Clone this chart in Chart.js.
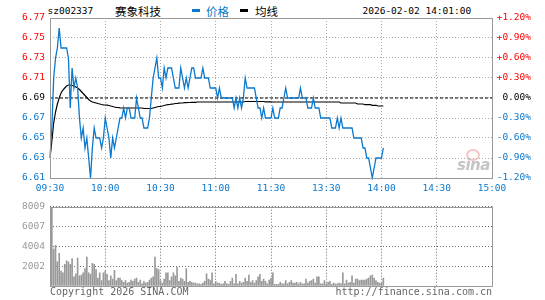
<!DOCTYPE html>
<html>
<head>
<meta charset="utf-8">
<script src="https://cdn.jsdelivr.net/npm/chart.js@4.4.1/dist/chart.umd.min.js"></script>
<style>
  body { margin: 0; background: #fff; }
  #wrap { position: relative; width: 545px; height: 300px; overflow: hidden; }
  #wrap canvas { position: absolute; left: 0; }
  .t { position: absolute; white-space: nowrap; font-family: "DejaVu Sans Mono", monospace; font-size: 9.5px; line-height: 12px; color: #000; }
  .cn { position: absolute; white-space: nowrap; font-family: "Noto Sans CJK SC", sans-serif; font-size: 11.5px; line-height: 14px; }
  .dash { position: absolute; top: 9px; width: 8px; height: 3px; }
  .foot { position: absolute; top: 286px; white-space: nowrap; font-family: "DejaVu Sans Mono", monospace; font-size: 10px; line-height: 12px; color: #666; }
  #logo { position: absolute; left: 457px; top: 156px; font: italic bold 15px "DejaVu Sans", sans-serif; color: #c4c4c4; letter-spacing: -0.5px; }
  #eye { position: absolute; left: 466px; top: 149px; width: 10px; height: 8px; border-radius: 50%; border: 2px solid #f3b8b8; opacity: 0.8; }
</style>
</head>
<body>
<div id="wrap">
  <div class="t" style="left:47.5px;top:5px">sz002337</div>
  <div class="cn" style="left:115px;top:4px">赛象科技</div>
  <div class="dash" style="left:192px;background:#0a78cc"></div>
  <div class="cn" style="left:206px;top:4px;color:#0a78cc">价格</div>
  <div class="dash" style="left:240px;background:#000"></div>
  <div class="cn" style="left:255px;top:4px">均线</div>
  <div class="t" style="left:362.5px;top:5px">2026-02-02 14:01:00</div>

  <canvas id="price" width="545" height="196" style="top:0"></canvas>
  <canvas id="vol" width="545" height="104" style="top:196px"></canvas>

  <div id="eye"></div>
  <div id="logo">sina</div>
  <div class="foot" style="left:50px">Copyright 2026 SINA.COM</div>
  <div class="foot" style="left:335.5px">http://finance.sina.com.cn</div>
</div>

<script>
// 분시도(价格/均线) + 거래량. 인덱스 = 09:30부터의 분 (11:30 다음이 13:00)
const RED = "#ff0000"
const BLUE = "#0a78cc"
const INK = "#000000"
const FRAME = "#999999"
const GRID = "#a8a8a8"
const VOL_GRID = "#707070"
const BAR = "#999999"
const MONO = "'DejaVu Sans Mono', monospace"

const PREV_CLOSE = 6.69
const TIME_POS = [0, 30, 60, 90, 120, 150, 180, 210, 240]
const TIME_LABELS = ["09:30", "10:00", "10:30", "11:00", "11:30", "13:30", "14:00", "14:30", "15:00"]
const PRICE_TICKS = [6.61, 6.63, 6.65, 6.67, 6.69, 6.71, 6.73, 6.75, 6.77]
const PCT_TICKS = [-1.2, -0.9, -0.6, -0.3, 0, 0.3, 0.6, 0.9, 1.2]
const VOL_TICKS = [0, 2002, 4004, 6007, 8009]

const PRICE = [
  6.63, 6.66, 6.71, 6.73, 6.74, 6.76, 6.74, 6.74, 6.74, 6.74,
  6.73, 6.68, 6.72, 6.70, 6.71, 6.70, 6.67, 6.65, 6.66, 6.64,
  6.65, 6.63, 6.61, 6.64, 6.66, 6.65, 6.65, 6.65, 6.64, 6.65,
  6.67, 6.66, 6.65, 6.63, 6.65, 6.64, 6.65, 6.66, 6.67, 6.67,
  6.68, 6.67, 6.68, 6.68, 6.67, 6.67, 6.67, 6.69, 6.68, 6.67,
  6.67, 6.66, 6.66, 6.66, 6.67, 6.69, 6.71, 6.72, 6.73, 6.71,
  6.71, 6.70, 6.72, 6.71, 6.72, 6.72, 6.72, 6.71, 6.70, 6.70,
  6.70, 6.72, 6.71, 6.70, 6.71, 6.70, 6.71, 6.72, 6.72, 6.71,
  6.71, 6.71, 6.71, 6.72, 6.71, 6.71, 6.71, 6.70, 6.70, 6.70,
  6.70, 6.69, 6.70, 6.69, 6.69, 6.69, 6.69, 6.69, 6.69, 6.69,
  6.68, 6.69, 6.68, 6.69, 6.68, 6.69, 6.71, 6.70, 6.70, 6.70,
  6.70, 6.70, 6.69, 6.68, 6.68, 6.67, 6.68, 6.67, 6.67, 6.67,
  6.67, 6.68, 6.67, 6.67, 6.67, 6.68, 6.68, 6.69, 6.70, 6.69,
  6.69, 6.69, 6.69, 6.69, 6.69, 6.69, 6.70, 6.69, 6.69, 6.69,
  6.68, 6.68, 6.68, 6.69, 6.68, 6.68, 6.68, 6.67, 6.67, 6.67,
  6.67, 6.67, 6.67, 6.66, 6.66, 6.66, 6.67, 6.66, 6.67, 6.66,
  6.66, 6.66, 6.66, 6.66, 6.66, 6.65, 6.65, 6.65, 6.65, 6.65,
  6.64, 6.64, 6.63, 6.63, 6.62, 6.61, 6.62, 6.63, 6.63, 6.63,
  6.63, 6.64,
]

const AVG = [
  6.630, 6.647, 6.665, 6.676, 6.684, 6.690, 6.695, 6.698, 6.700, 6.702,
  6.703, 6.703, 6.7025, 6.702, 6.701, 6.700, 6.6985, 6.6965, 6.6945, 6.6925,
  6.6905, 6.6885, 6.687, 6.686, 6.6855, 6.685, 6.6845, 6.684, 6.6835, 6.6832,
  6.683, 6.6828, 6.6825, 6.682, 6.6815, 6.681, 6.6807, 6.6805, 6.6802, 6.680,
  6.680, 6.680, 6.680, 6.680, 6.680, 6.680, 6.680, 6.680, 6.680, 6.680,
  6.680, 6.6795, 6.6795, 6.6795, 6.6795, 6.6795, 6.680, 6.6805, 6.681, 6.6815,
  6.6817, 6.682, 6.6825, 6.683, 6.6833, 6.6835, 6.6838, 6.684, 6.6845, 6.6845,
  6.6848, 6.685, 6.685, 6.6853, 6.6853, 6.6855, 6.6855, 6.6857, 6.6857, 6.6857,
  6.686, 6.686, 6.686, 6.686, 6.686, 6.686, 6.686, 6.686, 6.686, 6.686,
  6.686, 6.686, 6.686, 6.686, 6.686, 6.686, 6.686, 6.686, 6.686, 6.686,
  6.686, 6.686, 6.686, 6.686, 6.686, 6.686, 6.6865, 6.6865, 6.6865, 6.6865,
  6.6865, 6.6865, 6.6865, 6.6865, 6.6865, 6.6865, 6.6865, 6.6862, 6.6862, 6.6862,
  6.6862, 6.686, 6.686, 6.686, 6.686, 6.686, 6.686, 6.686, 6.686, 6.686,
  6.686, 6.686, 6.686, 6.686, 6.686, 6.686, 6.686, 6.686, 6.686, 6.686,
  6.686, 6.686, 6.686, 6.686, 6.686, 6.686, 6.686, 6.686, 6.686, 6.686,
  6.686, 6.686, 6.686, 6.686, 6.686, 6.686, 6.686, 6.686, 6.685, 6.685,
  6.685, 6.685, 6.685, 6.685, 6.685, 6.685, 6.685, 6.684, 6.684, 6.684,
  6.684, 6.6833, 6.6833, 6.6833, 6.6833, 6.6827, 6.6827, 6.6827, 6.682, 6.682,
  6.682, 6.682,
]

const VOL = [
  1972, 8009, 3721, 4102, 2449, 3307, 1495, 1336, 2194, 2544,
  2449, 2194, 2767, 922, 1240, 2830, 1018, 1113, 1336, 1749,
  2926, 1336, 1177, 2290, 2194, 1654, 795, 1336, 541, 1336,
  1495, 1177, 541, 1018, 700, 1590, 541, 795, 795, 541,
  382, 541, 286, 382, 604, 477, 700, 795, 382, 604,
  223, 477, 286, 382, 604, 795, 922, 2926, 1749, 1654,
  541, 286, 700, 1336, 1336, 541, 922, 1336, 1018, 1876,
  477, 795, 700, 477, 1749, 382, 477, 382, 286, 286,
  223, 223, 159, 286, 477, 1240, 700, 604, 1336, 223,
  477, 286, 286, 159, 223, 477, 223, 159, 477, 795,
  223, 1177, 223, 477, 286, 382, 795, 477, 1113, 382,
  541, 286, 541, 922, 1177, 477, 700, 477, 223, 604,
  795, 1336, 159, 159, 159, 382, 223, 223, 541, 223,
  382, 541, 286, 286, 382, 223, 382, 223, 223, 700,
  286, 477, 541, 700, 286, 922, 922, 223, 223, 541,
  223, 382, 477, 159, 286, 223, 223, 286, 223, 1336,
  223, 604, 286, 382, 1018, 286, 700, 700, 541, 604,
  604, 604, 700, 795, 1018, 1113, 795, 541, 382, 286,
  286, 795,
]

// 차트 영역 외곽선
const frame = {
  id: "frame",
  afterDatasetsDraw(chart) {
    const { ctx, chartArea: a } = chart
    ctx.save()
    ctx.strokeStyle = FRAME
    ctx.lineWidth = 1
    ctx.strokeRect(Math.round(a.left) + 0.5, Math.round(a.top) + 0.5, Math.round(a.right - a.left), Math.round(a.bottom - a.top))
    ctx.restore()
  },
}

const signColor = (v) => (Math.abs(v) < 1e-6 ? INK : v > 0 ? RED : BLUE)
const setTicks = (arr) => (scale) => { scale.ticks = arr.map((value) => ({ value })) }
const tickFont = () => ({ family: MONO, size: 9.5 })

const xScale = (showLabels, gridColor) => ({
  type: "linear",
  min: 0,
  max: 240,
  offset: false,
  afterBuildTicks: setTicks(TIME_POS),
  afterFit: (s) => { s.height = showLabels ? 18 : 14 },
  grid: { color: gridColor, lineWidth: 1, drawTicks: false, offset: false },
  border: { display: false, dash: [1, 2] },
  ticks: {
    display: showLabels,
    color: BLUE,
    font: tickFont(),
    padding: 5,
    maxRotation: 0,
    autoSkip: false,
    callback: (v, i) => TIME_LABELS[i],
  },
})

Chart.defaults.animation = false

new Chart(document.getElementById("price"), {
  type: "line",
  data: {
    datasets: [
      {
        data: PRICE.map((y, x) => ({ x, y })),
        borderColor: BLUE,
        borderWidth: 1.3,
        pointRadius: 0,
        tension: 0,
        order: 1,
        clip: 2,
      },
      {
        data: AVG.map((y, x) => ({ x, y })),
        borderColor: INK,
        borderWidth: 1.2,
        pointRadius: 0,
        tension: 0,
        order: 2,
      },
      {
        data: [{ x: 0, y: PREV_CLOSE }, { x: 240, y: PREV_CLOSE }],
        borderColor: INK,
        borderWidth: 1,
        borderDash: [3, 2],
        pointRadius: 0,
        order: 3,
      },
    ],
  },
  options: {
    responsive: false,
    layout: { padding: { top: 18, right: 14, left: 0, bottom: 0 } },
    plugins: { legend: { display: false }, tooltip: { enabled: false } },
    scales: {
      x: xScale(true, GRID),
      y: {
        position: "left",
        min: 6.61,
        max: 6.77,
        afterBuildTicks: setTicks(PRICE_TICKS),
        afterFit: (s) => { s.width = 50 },
        grid: { color: GRID, drawTicks: false },
        border: { display: false, dash: [1, 2] },
        ticks: {
          font: tickFont(),
          padding: 5,
          color: (c) => signColor(c.tick.value - PREV_CLOSE),
          callback: (v) => v.toFixed(2),
        },
      },
      pct: {
        position: "right",
        min: -1.2,
        max: 1.2,
        afterBuildTicks: setTicks(PCT_TICKS),
        afterFit: (s) => { s.width = 39 },
        grid: { drawOnChartArea: false, drawTicks: false },
        border: { display: false },
        ticks: {
          font: tickFont(),
          padding: 3,
          crossAlign: "far",
          color: (c) => signColor(c.tick.value),
          callback: (v) => (Math.abs(v) < 1e-6 ? "0.00%" : (v > 0 ? "+" : "") + v.toFixed(2) + "%"),
        },
      },
    },
  },
  plugins: [frame],
})

new Chart(document.getElementById("vol"), {
  type: "bar",
  data: {
    datasets: [
      {
        data: VOL.map((y, x) => ({ x, y })),
        backgroundColor: BAR,
        barThickness: 1,
      },
    ],
  },
  options: {
    responsive: false,
    layout: { padding: { top: 6, right: 53, left: 0, bottom: 0 } },
    plugins: { legend: { display: false }, tooltip: { enabled: false } },
    scales: {
      x: xScale(false, VOL_GRID),
      y: {
        position: "left",
        min: 0,
        max: 8009,
        afterBuildTicks: setTicks(VOL_TICKS),
        afterFit: (s) => { s.width = 50 },
        grid: { color: VOL_GRID, lineWidth: 1, drawTicks: false },
        border: { display: false, dash: [1, 2] },
        ticks: {
          font: tickFont(),
          padding: 5,
          color: "#999999",
          callback: (v) => (v === 0 ? "" : String(v)),
        },
      },
    },
  },
  plugins: [frame],
})
</script>
</body>
</html>
